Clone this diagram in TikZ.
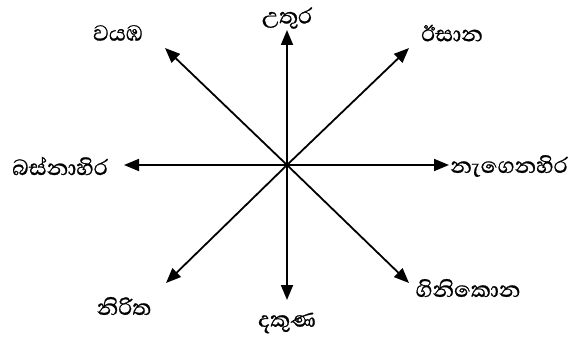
\documentclass[tikz,border=0pt]{standalone}
\usepackage{fontspec}
\newfontfamily\sinhala[Script=Sinhala,FakeBold=0.8]{Abhaya Libre}
\usetikzlibrary{arrows.meta}

\begin{document}
\begin{tikzpicture}[
  x=1pt, y=-1pt,
  dir/.style={font=\sinhala\fontsize{28}{32}\selectfont, inner sep=0pt},
  arr/.style={-{Triangle[length=15pt,width=12pt]}, line width=1.8pt},
]
\useasboundingbox (0,0) rectangle (572,342);

\coordinate (o) at (287,165);
\coordinate (tn) at (287,30);
\coordinate (ts) at (287,300);
\coordinate (tw) at (124,165);
\coordinate (te) at (449,165);
\coordinate (tnw) at (165,48);
\coordinate (tne) at (409,48);
\coordinate (tsw) at (166,283);
\coordinate (tse) at (409,283);

\node[dir] (north) at (287,18) {උතුර};
\node[dir] (south) at (287,323) {දකුණ};
\node[dir] (west) at (60,166) {බස්නාහිර};
\node[dir] (east) at (509,166) {නැගෙනහිර};
\node[dir] (nw) at (118,33) {වයඹ};
\node[dir] (ne) at (452,33) {ඊසාන};
\node[dir] (sw) at (124,306) {නිරිත};
\node[dir] (se) at (468,288) {ගිනිකොන};

\draw[arr] (o) -- (tn);
\draw[arr] (o) -- (ts);
\draw[arr] (o) -- (tw);
\draw[arr] (o) -- (te);
\draw[arr] (o) -- (tnw);
\draw[arr] (o) -- (tne);
\draw[arr] (o) -- (tsw);
\draw[arr] (o) -- (tse);

\end{tikzpicture}
\end{document}
